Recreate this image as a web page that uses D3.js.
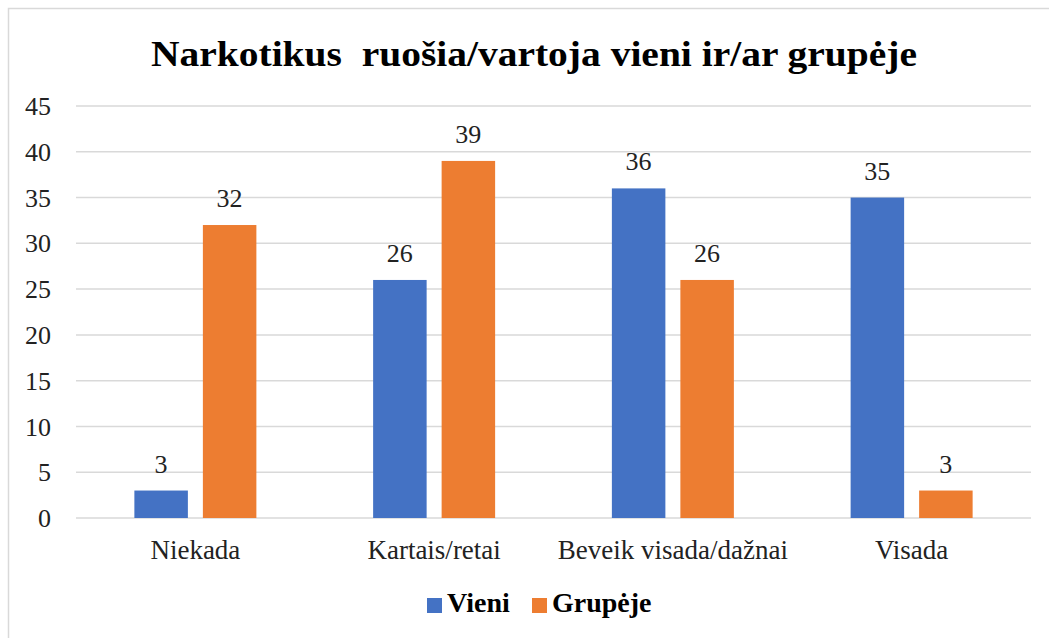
<!DOCTYPE html>
<html>
<head>
<meta charset="utf-8">
<script src="https://cdn.jsdelivr.net/npm/d3@7"></script>
<style>
  body { margin: 0; background: #fff; }
</style>
</head>
<body>
<svg width="1049" height="638"></svg>
<script>
var categories = ["Niekada", "Kartais/retai", "Beveik visada/dažnai", "Visada"];
var series = ["Vieni", "Grupėje"];
var vieni = [3, 26, 36, 35];
var grupeje = [32, 39, 26, 3];
var yTicks = [0, 5, 10, 15, 20, 25, 30, 35, 40, 45];
var colors = ["#4472C4", "#ED7D31"];

var values = [vieni, grupeje];
var data = categories.map(function (c, i) {
    return { cat: c, vals: series.map(function (s, j) { return { key: s, value: values[j][i] }; }) };
});

var serif = "'Liberation Serif', 'Times New Roman', serif";
var svg = d3.select("svg");

// chart frame
svg.append("rect")
    .attr("x", 8.5).attr("y", 8.5)
    .attr("width", 1100).attr("height", 700)
    .attr("fill", "none")
    .attr("stroke", "#d9d9d9")
    .attr("stroke-width", 1.5);

svg.append("text")
    .attr("x", 151)
    .attr("y", 66)
    .style("font-family", serif)
    .style("font-size", "36px")
    .style("font-weight", "bold")
    .attr("textLength", 766)
    .attr("lengthAdjust", "spacingAndGlyphs")
    .style("white-space", "pre")
    .text("Narkotikus  ruošia/vartoja vieni ir/ar grupėje");

var x0 = d3.scaleBand()
    .domain(categories)
    .range([76, 1031])
    .paddingInner(0.489)
    .paddingOuter(0.2445);

var x1 = d3.scaleBand()
    .domain(series)
    .range([0, x0.bandwidth()])
    .paddingInner(0.219);

var y = d3.scaleLinear().domain([0, 45]).range([518, 106]);

// gridlines
svg.append("g")
    .selectAll("line")
    .data(yTicks)
    .enter().append("line")
    .attr("x1", 76).attr("x2", 1031)
    .attr("y1", function (d) { return y(d); })
    .attr("y2", function (d) { return y(d); })
    .attr("stroke", "#d9d9d9")
    .attr("stroke-width", 1.5);

// y axis labels
var yAxis = svg.append("g")
    .attr("transform", "translate(59,0)")
    .call(d3.axisLeft(y).tickValues(yTicks).tickSize(0).tickPadding(8));
yAxis.select(".domain").remove();
yAxis.selectAll("text")
    .attr("fill", "#222")
    .attr("dy", "0.33em")
    .style("font-family", serif)
    .style("font-size", "26px");

// x axis labels
var xAxis = svg.append("g")
    .attr("transform", "translate(0,533)")
    .call(d3.axisBottom(x0).tickSize(0).tickPadding(7));
xAxis.select(".domain").remove();
xAxis.selectAll("text")
    .attr("fill", "#222")
    .style("font-family", serif)
    .style("font-size", "27px");

var groups = svg.append("g")
    .selectAll("g")
    .data(data)
    .enter().append("g")
    .attr("transform", function (d) { return "translate(" + x0(d.cat) + ",0)"; });

groups.selectAll("rect")
    .data(function (d) { return d.vals; })
    .enter().append("rect")
    .attr("x", function (d) { return x1(d.key); })
    .attr("y", function (d) { return y(d.value); })
    .attr("width", x1.bandwidth())
    .attr("height", function (d) { return y(0) - y(d.value); })
    .attr("fill", function (d, i) { return colors[i]; });

groups.selectAll("text.val")
    .data(function (d) { return d.vals; })
    .enter().append("text")
    .attr("class", "val")
    .attr("x", function (d) { return x1(d.key) + x1.bandwidth() / 2; })
    .attr("y", function (d) { return y(d.value) - 18; })
    .attr("text-anchor", "middle")
    .attr("fill", "#222")
    .style("font-family", serif)
    .style("font-size", "26px")
    .text(function (d) { return d.value; });

// legend
var legend = svg.append("g").attr("transform", "translate(427,598)");
var legX = [0, 105];
series.forEach(function (s, i) {
    legend.append("rect")
        .attr("x", legX[i]).attr("y", 0)
        .attr("width", 15).attr("height", 15)
        .attr("fill", colors[i]);
    legend.append("text")
        .attr("x", legX[i] + 20)
        .attr("y", 14)
        .style("font-family", serif)
        .style("font-size", "28px")
        .style("font-weight", "bold")
        .text(s);
});
</script>
</body>
</html>
